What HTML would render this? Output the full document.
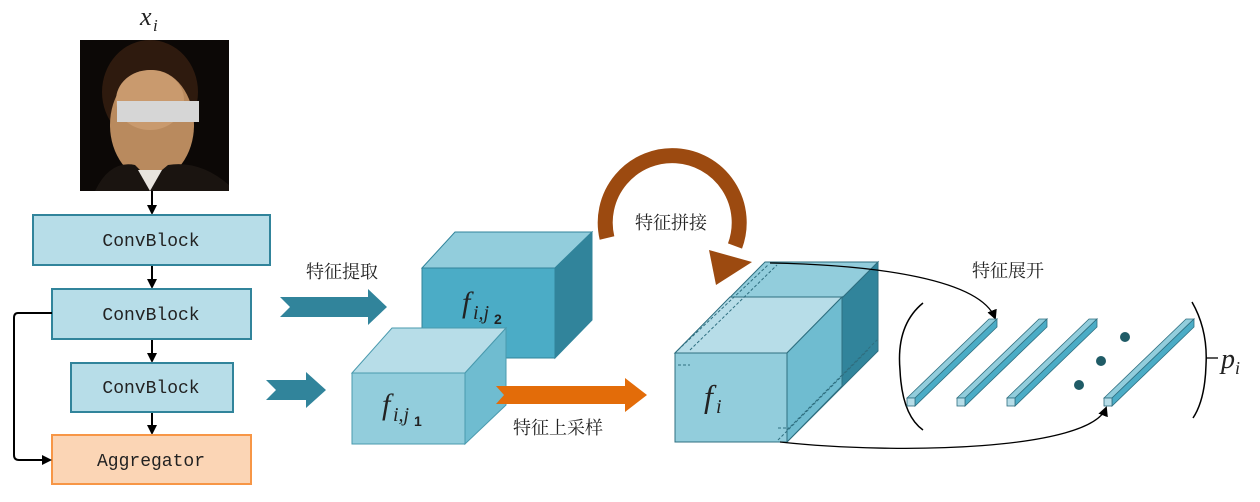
<!DOCTYPE html>
<html><head><meta charset="utf-8"><style>
html,body{margin:0;padding:0;background:#fff;}
svg{display:block;}
.mono{font-family:"Liberation Mono","DejaVu Sans Mono",monospace;font-size:18px;fill:#222;}
.cn{font-family:"Liberation Serif","Noto Serif CJK SC","Noto Sans CJK SC",serif;font-size:18px;fill:#222;}
.math{font-family:"Liberation Serif",serif;font-style:italic;fill:#222;}
</style></head><body>
<svg width="1260" height="502" viewBox="0 0 1260 502" xmlns="http://www.w3.org/2000/svg">
<defs>
<marker id="ah" markerWidth="10" markerHeight="10" refX="8" refY="5" orient="auto" markerUnits="userSpaceOnUse"><path d="M0,0 L10,5 L0,10 z" fill="#000"/></marker>
</defs>

<text x="140" y="25" class="math" font-size="26">x</text><text x="153" y="31" class="math" font-size="17">i</text>

<rect x="80" y="40" width="149" height="151" fill="#0c0806"/>
<ellipse cx="150" cy="92" rx="48" ry="52" fill="#2e1a0e"/>
<ellipse cx="152" cy="125" rx="42" ry="55" fill="#b98a5e"/>
<ellipse cx="150" cy="100" rx="34" ry="30" fill="#c99a6e"/>
<path d="M95,191 Q110,160 135,165 L150,180 L168,165 Q200,160 229,185 L229,191 Z" fill="#1a1410"/>
<path d="M138,170 L150,191 L162,170 Z" fill="#e8e4de"/>
<rect x="117" y="101" width="82" height="21" fill="#d6d6d6"/>

<line x1="152" y1="191" x2="152" y2="213" stroke="#000" stroke-width="2" marker-end="url(#ah)"/>
<line x1="152" y1="265" x2="152" y2="287" stroke="#000" stroke-width="2" marker-end="url(#ah)"/>
<line x1="152" y1="339" x2="152" y2="361" stroke="#000" stroke-width="2" marker-end="url(#ah)"/>
<line x1="152" y1="412" x2="152" y2="433" stroke="#000" stroke-width="2" marker-end="url(#ah)"/>

<rect x="33" y="215" width="237" height="50" fill="#b7dde8" stroke="#31849b" stroke-width="2"/>
<text x="151" y="246" class="mono" text-anchor="middle">ConvBlock</text>
<rect x="52" y="289" width="199" height="50" fill="#b7dde8" stroke="#31849b" stroke-width="2"/>
<text x="151" y="320" class="mono" text-anchor="middle">ConvBlock</text>
<rect x="71" y="363" width="162" height="49" fill="#b7dde8" stroke="#31849b" stroke-width="2"/>
<text x="151" y="393" class="mono" text-anchor="middle">ConvBlock</text>
<rect x="52" y="435" width="199" height="49" fill="#fbd5b5" stroke="#f79646" stroke-width="2"/>
<text x="151" y="466" class="mono" text-anchor="middle">Aggregator</text>

<path d="M52,313 L18,313 Q14,313 14,318 L14,455 Q14,460 19,460 L50,460" fill="none" stroke="#000" stroke-width="2" marker-end="url(#ah)"/>

<text x="342" y="278" class="cn" text-anchor="middle">特征提取</text>
<path d="M280,297 L368,297 L368,289 L387,307 L368,325 L368,317 L280,317 L290,307 Z" fill="#31849b"/>
<path d="M266,380 L306,380 L306,372 L326,390 L306,408 L306,400 L266,400 L276,390 Z" fill="#31849b"/>

<polygon points="422,268 455,232 592,232 555,268" fill="#92cddc" stroke="#31849b" stroke-width="1"/>
<polygon points="555,268 592,232 592,320 555,358" fill="#31849b" stroke="#31849b" stroke-width="1"/>
<rect x="422" y="268" width="133" height="90" fill="#4bacc6" stroke="#31849b" stroke-width="1"/>
<text x="462" y="312" class="math" font-size="30">f</text><text x="473" y="319" class="math" font-size="20">i,j</text><text x="494" y="324" font-family="Liberation Sans,sans-serif" font-size="14" font-weight="bold" fill="#222">2</text>

<polygon points="352,373 392,328 506,328 465,373" fill="#b7dde8" stroke="#4a9aae" stroke-width="1"/>
<polygon points="465,373 506,328 506,405 465,444" fill="#6fbcd0" stroke="#4a9aae" stroke-width="1"/>
<rect x="352" y="373" width="113" height="71" fill="#92cddc" stroke="#4a9aae" stroke-width="1"/>
<text x="382" y="414" class="math" font-size="30">f</text><text x="393" y="421" class="math" font-size="20">i,j</text><text x="414" y="426" font-family="Liberation Sans,sans-serif" font-size="14" font-weight="bold" fill="#222">1</text>

<path d="M496,386 L625,386 L625,378 L647,395 L625,412 L625,404 L496,404 L504,395 Z" fill="#e36c09"/>
<text x="558" y="434" class="cn" text-anchor="middle">特征上采样</text>

<path d="M607,238 A67,67 0 1,1 735,246" fill="none" stroke="#9c4a10" stroke-width="15"/>
<polygon points="709,250 752,262 716,285" fill="#9c4a10"/>
<text x="671" y="229" class="cn" text-anchor="middle">特征拼接</text>

<polygon points="675,353 765,262 878,262 787,353" fill="#92cddc" stroke="#2f6f80" stroke-width="1"/>
<polygon points="675,353 730,297 842,297 787,353" fill="#b7dde8" stroke="#2f6f80" stroke-width="1"/>
<polygon points="787,353 878,262 878,351 787,442" fill="#31849b" stroke="#2f6f80" stroke-width="1"/>
<polygon points="787,353 842,297 842,386 787,442" fill="#6fbcd0" stroke="#2f6f80" stroke-width="1"/>
<rect x="675" y="353" width="112" height="89" fill="#92cddc" stroke="#2f6f80" stroke-width="1"/>
<g fill="none" stroke="#2f6f80" stroke-width="1" stroke-dasharray="3,2">
<path d="M678,350 L768,265 M690,350 L777,265 M678,365 L690,365"/>
<path d="M778,440 L868,350 M787,430 L877,340 M778,428 L790,428"/>
</g>
<text x="704" y="407" class="math" font-size="32">f</text><text x="716" y="413" class="math" font-size="20">i</text>

<path d="M770,263 C880,265 980,280 995,318" fill="none" stroke="#000" stroke-width="1.3" marker-end="url(#ah)"/>
<path d="M780,442 C900,455 1090,450 1106,408" fill="none" stroke="#000" stroke-width="1.3" marker-end="url(#ah)"/>
<text x="1008" y="277" class="cn" text-anchor="middle">特征展开</text>

<path d="M923,303 Q896,325 900,370 Q902,415 923,430" fill="none" stroke="#000" stroke-width="1.5"/>
<path d="M1192,302 Q1208,330 1206,365 Q1205,400 1193,418" fill="none" stroke="#000" stroke-width="1.5"/>
<line x1="1206" y1="358" x2="1218" y2="358" stroke="#000" stroke-width="1.3"/>
<text x="1221" y="368" class="math" font-size="28">p</text><text x="1235" y="374" class="math" font-size="18">i</text>

<g stroke="#2f6f80" stroke-width="0.8">
<g id="bar">
<polygon points="907,398 989,319 997,319 915,398" fill="#92cddc"/>
<polygon points="915,398 997,319 997,327 915,406" fill="#4bacc6"/>
<rect x="907" y="398" width="8" height="8" fill="#b7dde8"/>
</g>
<use href="#bar" x="50"/>
<use href="#bar" x="100"/>
<use href="#bar" x="197"/>
</g>
<circle cx="1125" cy="337" r="5" fill="#1f5b66"/>
<circle cx="1101" cy="361" r="5" fill="#1f5b66"/>
<circle cx="1079" cy="385" r="5" fill="#1f5b66"/>
</svg>
</body></html>
